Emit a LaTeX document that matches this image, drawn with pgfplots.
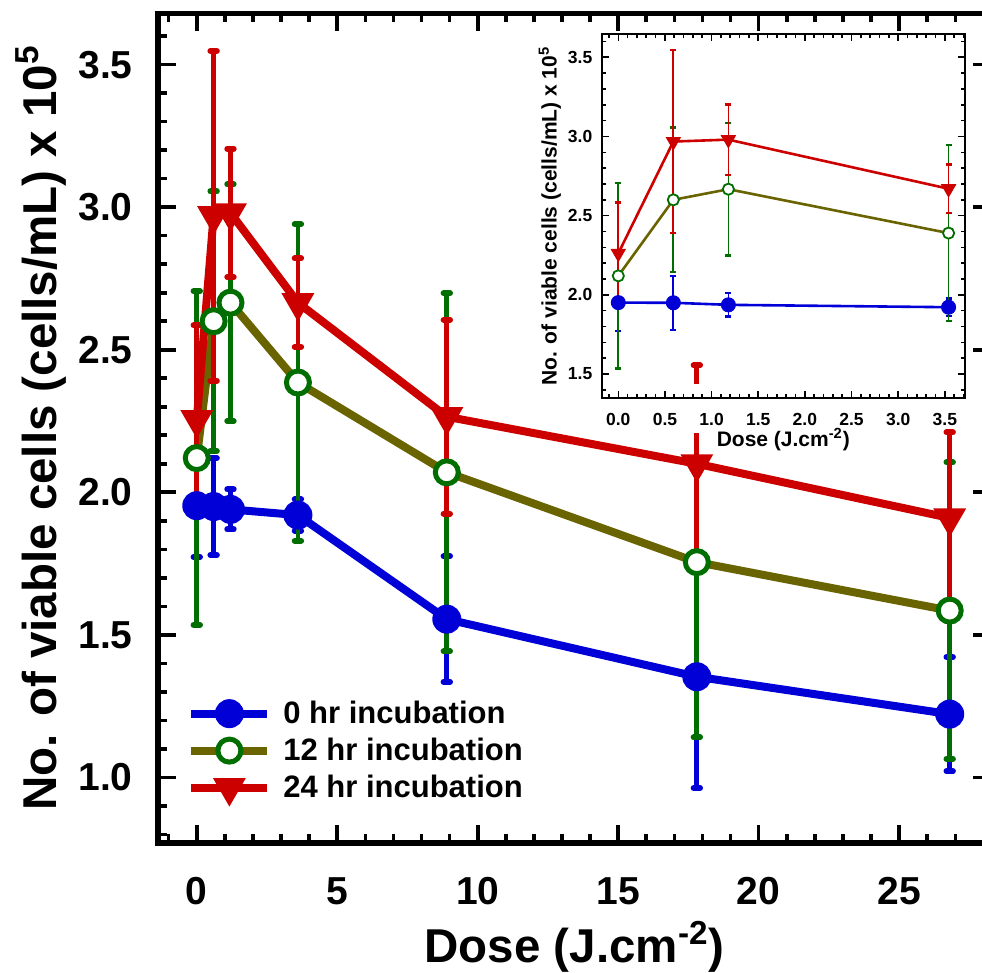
\documentclass[border=0pt]{standalone}
\usepackage{fontspec}
\setmainfont{Liberation Sans}
\usepackage{pgfplots}
\usepackage{pgfplotstable}
\pgfplotsset{compat=1.18}

\definecolor{cblue}{RGB}{0,0,215}
\definecolor{cgreen}{RGB}{0,110,0}
\definecolor{colive}{RGB}{105,100,0}
\definecolor{cred}{RGB}{205,0,0}

% dose, mean count, error
\pgfplotstableread{
x y e
0 1.953 0.18
0.6 1.950 0.17
1.2 1.940 0.07
3.6 1.920 0.055
8.9 1.555 0.22
17.8 1.353 0.39
26.8 1.222 0.20
}\hrzero
\pgfplotstableread{
x y e
0 2.120 0.585
0.6 2.600 0.455
1.2 2.665 0.415
3.6 2.385 0.555
8.9 2.070 0.628
17.8 1.755 0.615
26.8 1.585 0.52
}\hrtwelve
\pgfplotstableread{
x y e
0 2.255 0.33
0.6 2.970 0.578
1.2 2.980 0.225
3.6 2.665 0.155
8.9 2.265 0.34
17.8 2.100 0.345
26.8 1.910 0.30
}\hrtwentyfour

% inset
\pgfplotstableread{
x y e
0 1.951 0.18
0.59 1.950 0.17
1.18 1.937 0.073
3.54 1.922 0.055
}\inzero
\pgfplotstableread{
x y e
0 2.120 0.585
0.59 2.600 0.457
1.18 2.667 0.418
3.54 2.390 0.555
}\intwelve
\pgfplotstableread{
x y e
0 2.262 0.32
0.59 2.968 0.578
1.18 2.980 0.222
3.54 2.670 0.153
}\intwentyfour

\begin{document}
\begin{tikzpicture}
\begin{axis}[
  at={(79pt,65pt)}, anchor=south west,
  scale only axis, width=416.5pt, height=414.85pt,
  xmin=-1.38, xmax=28.27, ymin=0.77, ymax=3.68,
  xtick={0,5,10,15,20,25},
  ytick={1.0,1.5,2.0,2.5,3.0,3.5},
  minor xtick={-1,0,...,28},
  minor ytick={0.8,0.9,...,3.65},
  tick align=inside,
  major tick length=9pt, minor tick length=4.5pt,
  every tick/.append style={black, line width=1.8pt},
  axis line style={line width=2.75pt},
  /pgf/number format/assume math mode=true,
  ticklabel style={font=\fontsize{19.5}{20}\selectfont\bfseries},
  yticklabel style={inner sep=0pt, xshift=-12.5pt,
    /pgf/number format/fixed, /pgf/number format/fixed zerofill,
    /pgf/number format/precision=1},
  xticklabel style={inner sep=0pt, yshift=-17pt},
  xlabel={Dose (J.cm\textsuperscript{-2})},
  ylabel={No. of viable cells (cells/mL) x 10\textsuperscript{5}},
  label style={font=\fontsize{23.75}{24}\selectfont\bfseries},
  xlabel style={at={([yshift=-60pt]axis description cs:0.5,0)}, anchor=base},
  ylabel style={at={([xshift=-50.5pt]axis description cs:0,0.5)}, anchor=base},
  legend image code/.code={\draw[mark repeat=2,mark phase=2,#1]
    plot coordinates {(0pt,0pt)(19pt,0pt)(38pt,0pt)};},
  legend style={draw=none, fill=none, at={(axis description cs:0.0348,0.0458)},
    anchor=south west, inner sep=0pt, row sep=1.75pt, column sep=4pt,
    font=\fontsize{15.5}{18}\selectfont\bfseries},
  legend cell align=left,
]
\addplot[cblue, line width=4pt, mark=*, mark size=6.75pt,
  mark options={solid, fill=cblue, line width=1pt},
  error bars/y dir=both, error bars/y explicit,
  error bars/error bar style={cblue, line width=2.4pt},
  error bars/error mark options={cblue, rotate=90, line width=3pt, mark size=1.6pt, line cap=round}]
  table[x=x, y=y, y error=e]{\hrzero};
\addlegendentry{0 hr incubation}
\addplot[colive, line width=4pt, mark=*, mark size=5.75pt,
  mark options={solid, draw=cgreen, fill=white, line width=2.5pt},
  error bars/y dir=both, error bars/y explicit,
  error bars/error bar style={cgreen, line width=2.4pt},
  error bars/error mark options={cgreen, rotate=90, line width=3pt, mark size=1.6pt, line cap=round}]
  table[x=x, y=y, y error=e]{\hrtwelve};
\addlegendentry{12 hr incubation}
\addplot[cred, line width=4pt, mark=triangle*, mark size=8.5pt,
  mark options={solid, fill=cred, line width=1pt, rotate=180},
  error bars/y dir=both, error bars/y explicit,
  error bars/error bar style={cred, line width=2.4pt},
  error bars/error mark options={cred, rotate=90, line width=3pt, mark size=1.6pt, line cap=round}]
  table[x=x, y=y, y error=e]{\hrtwentyfour};
\addlegendentry{24 hr incubation}
\end{axis}

% the inset's label strip hides the main 17.8 error bar below its frame
\fill[white] (345pt,270pt) rectangle (353pt,294.5pt);

\begin{axis}[
  at={(300.85pt,287.35pt)}, anchor=south west,
  scale only axis, width=181.65pt, height=182.15pt,
  xmin=-0.178, xmax=3.716, ymin=1.347, ymax=3.647,
  xtick={0,0.5,...,3.5},
  ytick={1.5,2.0,...,3.5},
  minor xtick={-0.1,0,...,3.7},
  minor ytick={1.4,1.5,...,3.6},
  tick align=inside,
  major tick length=3.5pt, minor tick length=2pt,
  every tick/.append style={black, line width=0.8pt},
  axis line style={line width=1pt},
  /pgf/number format/assume math mode=true,
  ticklabel style={font=\fontsize{8.75}{9}\selectfont\bfseries,
    /pgf/number format/fixed, /pgf/number format/fixed zerofill,
    /pgf/number format/precision=1},
  yticklabel style={inner sep=0pt, xshift=-4.5pt},
  xticklabel style={inner sep=0pt, yshift=-7.5pt},
  xlabel={Dose (J.cm\textsuperscript{-2})},
  ylabel={No. of viable cells (cells/mL) x 10\textsuperscript{5}},
  label style={font=\fontsize{10.5}{11}\selectfont\bfseries},
  xlabel style={at={([yshift=-24pt]axis description cs:0.5,0)}, anchor=base},
  ylabel style={at={([xshift=-22.5pt]axis description cs:0,0.5)}, anchor=base},
]
\addplot[cblue, line width=1.3pt, mark=*, mark size=3.5pt,
  mark options={solid, fill=cblue, line width=0.5pt},
  error bars/y dir=both, error bars/y explicit,
  error bars/error bar style={cblue, line width=0.9pt},
  error bars/error mark options={cblue, rotate=90, line width=1.2pt, mark size=1.5pt}]
  table[x=x, y=y, y error=e]{\inzero};
\addplot[colive, line width=1.3pt, mark=*, mark size=2.8pt,
  mark options={solid, draw=cgreen, fill=white, line width=0.9pt},
  error bars/y dir=both, error bars/y explicit,
  error bars/error bar style={cgreen, line width=0.9pt},
  error bars/error mark options={cgreen, rotate=90, line width=1.2pt, mark size=1.5pt}]
  table[x=x, y=y, y error=e]{\intwelve};
\addplot[cred, line width=1.3pt, mark=triangle*, mark size=4pt,
  mark options={solid, fill=cred, line width=0.5pt, rotate=180},
  error bars/y dir=both, error bars/y explicit,
  error bars/error bar style={cred, line width=0.9pt},
  error bars/error mark options={cred, rotate=90, line width=1.2pt, mark size=1.5pt}]
  table[x=x, y=y, y error=e]{\intwentyfour};
\end{axis}
\pgfresetboundingbox
\path[use as bounding box] (0,0) rectangle (491pt,486.5pt);
\end{tikzpicture}
\end{document}
